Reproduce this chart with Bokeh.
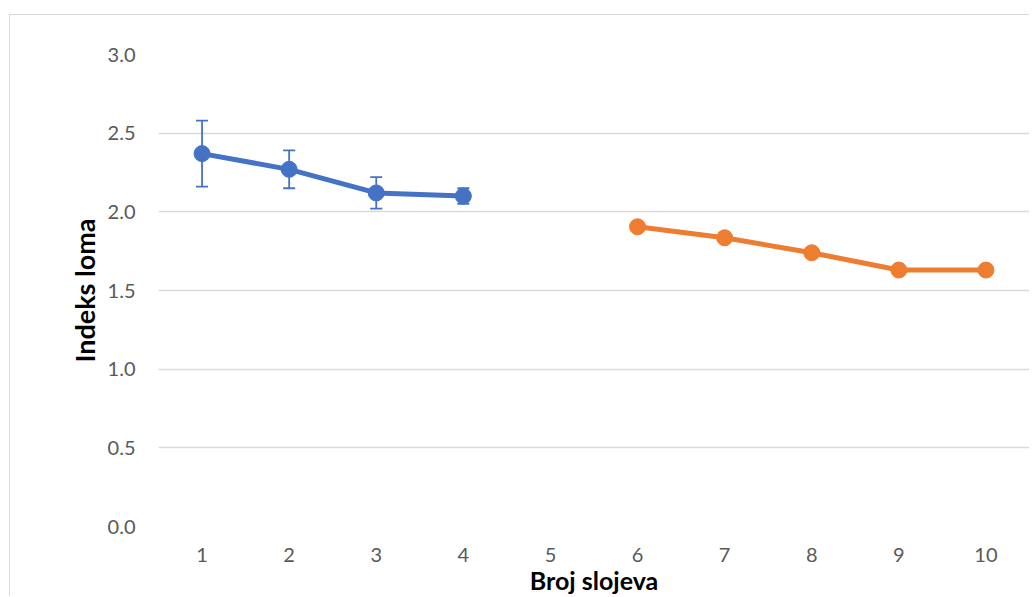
from bokeh.plotting import figure
from bokeh.models import ColumnDataSource, FixedTicker, Whisker, TeeHead, Range1d, CustomJSTickFormatter
from bokeh.embed import file_html
from bokeh.resources import INLINE

# data
layers_a = [1, 2, 3, 4]
index_a = [2.37, 2.27, 2.12, 2.10]
err_a = [0.21, 0.12, 0.10, 0.05]
layers_b = [6, 7, 8, 9, 10]
index_b = [1.905, 1.835, 1.74, 1.63, 1.63]
x_ticks = [1, 2, 3, 4, 5, 6, 7, 8, 9, 10]
y_ticks = [0.0, 0.5, 1.0, 1.5, 2.0, 2.5, 3.0]

BLUE = "#4472C4"
ORANGE = "#ED7D31"
FONT = "Lato"

p = figure(width=1020, height=582, output_backend="svg", toolbar_location=None,
           x_range=Range1d(0.5, 10.5), y_range=Range1d(0, 3.0),
           min_border_left=148, min_border_top=39, min_border_right=1,
           min_border_bottom=68)
p.margin = (14, 0, 0, 9)
p.styles = {"border-left": "1px solid #d9d9d9", "border-top": "1px solid #d9d9d9"}
p.outline_line_color = None
p.background_fill_color = "white"
p.border_fill_color = "white"

p.xgrid.grid_line_color = None
p.ygrid.grid_line_color = "#d9d9d9"
p.ygrid.grid_line_width = 1.3

p.xaxis.ticker = FixedTicker(ticks=x_ticks)
p.yaxis.ticker = FixedTicker(ticks=y_ticks)
p.yaxis.formatter = CustomJSTickFormatter(code="return tick.toFixed(1);")

for ax in (p.xaxis, p.yaxis):
    ax.axis_line_color = None
    ax.major_tick_line_color = None
    ax.minor_tick_line_color = None
    ax.major_label_text_font = FONT
    ax.major_label_text_font_size = "20px"
    ax.major_label_text_color = "#595959"
    ax.axis_label_text_font = FONT
    ax.axis_label_text_font_style = "bold"
    ax.axis_label_text_color = "#000000"

p.xaxis.axis_label = "Broj slojeva"
p.yaxis.axis_label = "Indeks loma"
p.xaxis.axis_label_text_font_size = "25px"
p.yaxis.axis_label_text_font_size = "27px"
p.xaxis.major_label_standoff = 15
p.xaxis.axis_label_standoff = 0
p.yaxis.major_label_standoff = 17
p.yaxis.axis_label_standoff = 4

src_a = ColumnDataSource(dict(
    x=layers_a, y=index_a,
    upper=[v + e for v, e in zip(index_a, err_a)],
    lower=[v - e for v, e in zip(index_a, err_a)],
))
src_b = ColumnDataSource(dict(x=layers_b, y=index_b))

w = Whisker(source=src_a, base="x", upper="upper", lower="lower",
            line_color=BLUE, line_width=1.8,
            upper_head=TeeHead(size=12, line_color=BLUE, line_width=1.8),
            lower_head=TeeHead(size=12, line_color=BLUE, line_width=1.8),
            level="underlay")
p.add_layout(w)

p.line("x", "y", source=src_a, line_color=BLUE, line_width=5)
p.scatter("x", "y", source=src_a, size=16, fill_color=BLUE, line_color=BLUE)
p.line("x", "y", source=src_b, line_color=ORANGE, line_width=5)
p.scatter("x", "y", source=src_b, size=16, fill_color=ORANGE, line_color=ORANGE)

open("out.html", "w").write(file_html(p, INLINE))
